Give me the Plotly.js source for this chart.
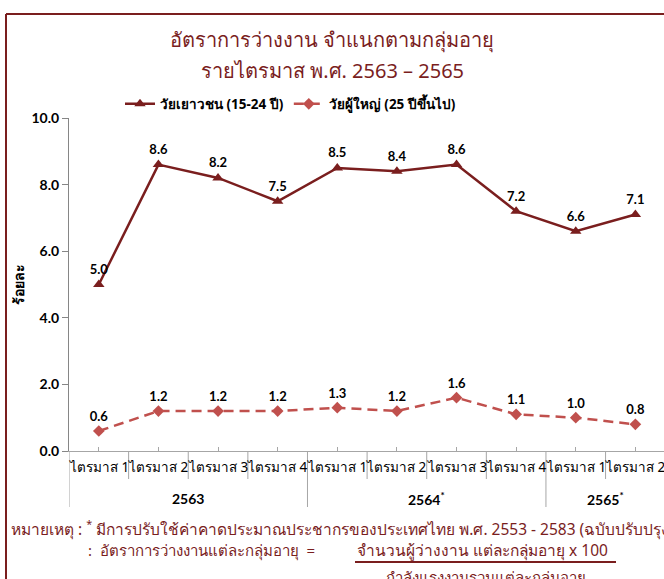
<!DOCTYPE html>
<html>
<head>
<meta charset="utf-8">
<script src="https://cdn.plot.ly/plotly-3.0.1.min.js"></script>
<style>
html,body{margin:0;padding:0;background:#fff;}
#chart{width:664px;height:579px;}
</style>
</head>
<body>
<div id="chart"></div>
<script>
// ---- data ----
var quarters = ['ไตรมาส 1','ไตรมาส 2','ไตรมาส 3','ไตรมาส 4','ไตรมาส 1','ไตรมาส 2','ไตรมาส 3','ไตรมาส 4','ไตรมาส 1','ไตรมาส 2'];
var years = ['2563','2564<sup>*</sup>','2565<sup>*</sup>'];
var yearQuarterCounts = [4, 4, 2];
var youthName = 'วัยเยาวชน (15-24 ปี)';
var adultName = 'วัยผู้ใหญ่ (25 ปีขึ้นไป)';
var youth = [5.0, 8.6, 8.2, 7.5, 8.5, 8.4, 8.6, 7.2, 6.6, 7.1];
var adult = [0.6, 1.2, 1.2, 1.2, 1.3, 1.2, 1.6, 1.1, 1.0, 0.8];
var titleLine1 = 'อัตราการว่างงาน จำแนกตามกลุ่มอายุ';
var titleLine2 = 'รายไตรมาส พ.ศ. 2563 – 2565';
var yTitle = 'ร้อยละ';
var note1 = 'หมายเหตุ : <sup>*</sup> มีการปรับใช้ค่าคาดประมาณประชากรของประเทศไทย พ.ศ. 2553 - 2583 (ฉบับปรับปรุง)';
var note2a = ':  อัตราการว่างงานแต่ละกลุ่มอายุ  =';
var note2b = 'จำนวนผู้ว่างงาน แต่ละกลุ่มอายุ x 100';
var note3 = 'กำลังแรงงานรวมแต่ละกลุ่มอายุ';

// ---- layout helpers ----
var W = 664, H = 579;
var L = 69, R = 0, T = 118, B = 128;
var PW = W - L - R, PH = H - T - B;
function px(x){ return (x - L) / PW; }
function py(y){ return (H - B - y) / PH; }

var idx = quarters.map(function(_, i){ return i; });
var dark = '#7a1e1e';
var light = '#c0504d';
var thaiFont = 'Tahoma, "Noto Sans", "DejaVu Sans", sans-serif';
var numFont = 'Lato, "Open Sans", sans-serif';

var traces = [
  {
    x: idx, y: youth, name: youthName, type: 'scatter', mode: 'lines+markers+text',
    line: {color: dark, width: 2.5},
    marker: {symbol: 'triangle-up', size: 10, color: dark},
    text: youth.map(function(v){ return v.toFixed(1); }),
    textposition: 'top center',
    textfont: {family: numFont, size: 13, color: '#000', weight: 'bold'},
    cliponaxis: false, hoverinfo: 'skip'
  },
  {
    x: idx, y: adult, name: adultName, type: 'scatter', mode: 'lines+markers+text',
    line: {color: light, width: 2.5, dash: '10px,6px'},
    marker: {symbol: 'diamond', size: 9, color: light},
    text: adult.map(function(v){ return v.toFixed(1); }),
    textposition: 'top center',
    textfont: {family: numFont, size: 13, color: '#000', weight: 'bold'},
    cliponaxis: false, hoverinfo: 'skip'
  }
];

var shapes = [];
// frame border (left and top)
shapes.push({type:'line', xref:'paper', yref:'paper', x0:px(6), x1:px(6), y0:py(14), y1:py(600), line:{color:dark, width:2}});
shapes.push({type:'line', xref:'paper', yref:'paper', x0:px(6), x1:px(700), y0:py(14), y1:py(14), line:{color:dark, width:2}});
// category separators
var yearStarts = [0];
yearQuarterCounts.forEach(function(c, i){ yearStarts.push(yearStarts[i] + c); });
for (var b = 0; b <= quarters.length; b++) {
  var isYear = yearStarts.indexOf(b) >= 0;
  shapes.push({type:'line', xref:'x', yref:'paper', x0:b-0.5, x1:b-0.5, y0:0, y1:py(isYear ? 507 : 479),
    line:{color:'#a6a6a6', width:1}});
}
// underline of numerator
shapes.push({type:'line', xref:'paper', yref:'paper', x0:px(355), x1:px(616), y0:py(562), y1:py(562), line:{color:dark, width:2}});

var annotations = [];
annotations.push({text: titleLine1, xref:'paper', yref:'paper', x:px(332), y:py(40), showarrow:false,
  xanchor:'center', yanchor:'middle', font:{family:thaiFont, size:20, color:dark}});
annotations.push({text: titleLine2, xref:'paper', yref:'paper', x:px(332), y:py(71), showarrow:false,
  xanchor:'center', yanchor:'middle', font:{family:thaiFont, size:20, color:dark}});
annotations.push({text: yTitle, xref:'paper', yref:'paper', x:px(18), y:py(285), showarrow:false, textangle:-90,
  xanchor:'center', yanchor:'middle', font:{family:thaiFont, size:14, color:'#000', weight:'bold'}});
// quarter labels
quarters.forEach(function(q, i){
  annotations.push({text: q, xref:'x', yref:'paper', x:i, y:py(467), showarrow:false,
    xanchor:'center', yanchor:'middle', font:{family:thaiFont, size:13.5, color:'#000'}});
});
// year labels
for (var k = 0; k < years.length; k++) {
  var center = (yearStarts[k] + yearStarts[k+1] - 1) / 2;
  annotations.push({text: '<b>' + years[k] + '</b>', xref:'x', yref:'paper', x:center, y:py(498), showarrow:false,
    xanchor:'center', yanchor:'middle', font:{family:numFont, size:14, color:'#000'}});
}
// notes
annotations.push({text: note1, xref:'paper', yref:'paper', x:px(9), y:py(528), showarrow:false,
  xanchor:'left', yanchor:'middle', font:{family:thaiFont, size:15.5, color:dark}});
annotations.push({text: note2a, xref:'paper', yref:'paper', x:px(86), y:py(550), showarrow:false,
  xanchor:'left', yanchor:'middle', font:{family:thaiFont, size:15, color:dark}});
annotations.push({text: note2b, xref:'paper', yref:'paper', x:px(355), y:py(550), showarrow:false,
  xanchor:'left', yanchor:'middle', font:{family:thaiFont, size:15.5, color:dark}});
annotations.push({text: note3, xref:'paper', yref:'paper', x:px(486), y:py(577), showarrow:false,
  xanchor:'center', yanchor:'middle', font:{family:thaiFont, size:15, color:dark}});

var layout = {
  width: W, height: H,
  margin: {l: L, r: R, t: T, b: B, pad: 0},
  paper_bgcolor: '#fff', plot_bgcolor: '#fff',
  showlegend: true,
  legend: {orientation: 'h', x: px(120), xanchor: 'left', y: py(104), yanchor: 'middle',
    font: {family: thaiFont, size: 13.5, color: '#000', weight: 'bold'}, itemwidth: 30, tracegroupgap: 0,
    bgcolor: 'rgba(0,0,0,0)'},
  xaxis: {
    range: [-0.5, 9.48], tickmode: 'array', tickvals: idx, showticklabels: false,
    ticks: 'inside', ticklen: 4, tickcolor: '#a6a6a6', showgrid: false, zeroline: false,
    showline: true, linecolor: '#a6a6a6', linewidth: 1, fixedrange: true
  },
  yaxis: {
    range: [0, 10], dtick: 2, tick0: 0, tickformat: '.1f',
    ticks: 'outside', ticklen: 6, tickcolor: '#868686', showgrid: false, zeroline: false,
    showline: true, linecolor: '#868686', linewidth: 1,
    tickfont: {family: numFont, size: 14, color: '#000', weight: 'bold'}, fixedrange: true
  },
  shapes: shapes,
  annotations: annotations,
  font: {family: thaiFont}
};

Plotly.newPlot('chart', traces, layout, {displayModeBar: false, staticPlot: true});
</script>
</body>
</html>
